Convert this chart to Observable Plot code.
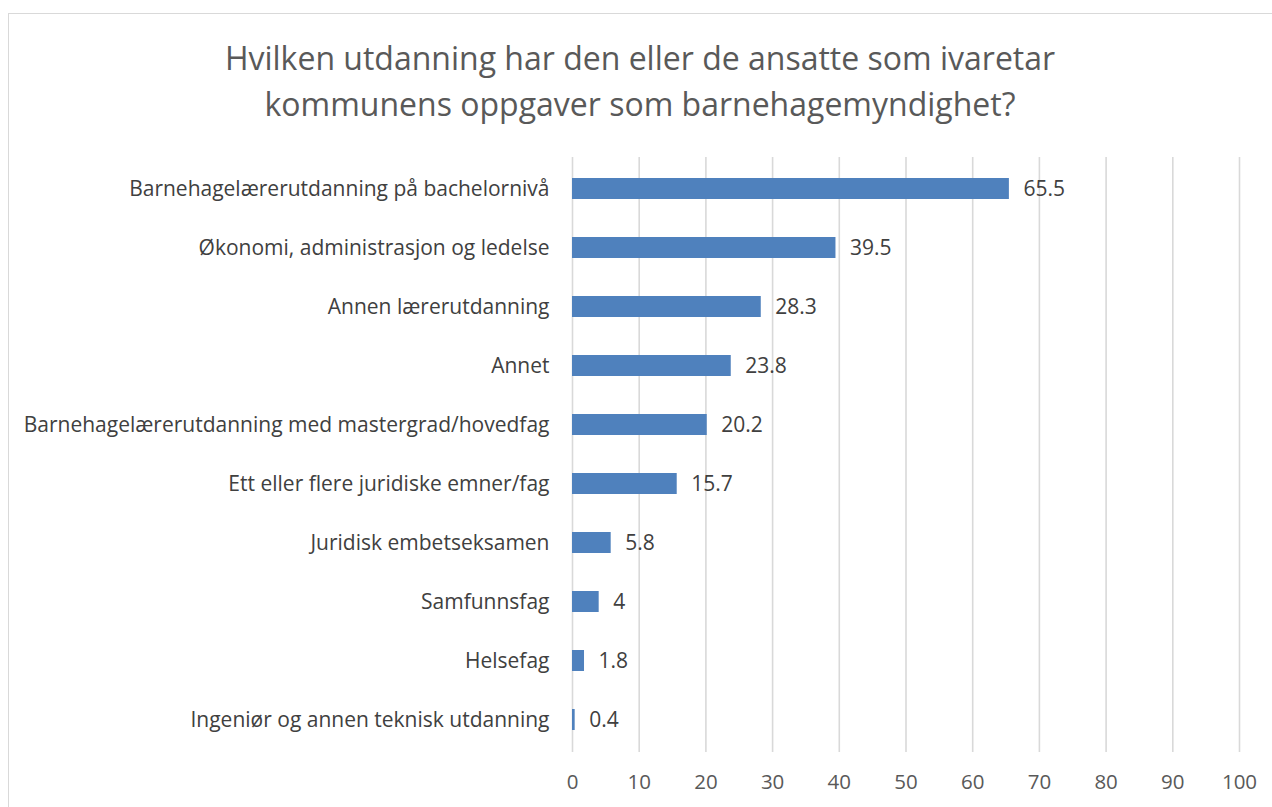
<!DOCTYPE html>
<html>
<head>
<meta charset="utf-8">
<script src="https://cdn.jsdelivr.net/npm/d3@7"></script>
<script src="https://cdn.jsdelivr.net/npm/@observablehq/plot@0.6"></script>
<style>
  html, body { margin: 0; padding: 0; background: #fff; }
  body { width: 1272px; height: 807px; overflow: hidden; position: relative; font-family: "Open Sans", sans-serif; }
  #frame { position: absolute; left: 8px; top: 13px; width: 1280px; height: 820px; border: 1.5px solid #d9d9d9; box-sizing: border-box; }
  #title { position: absolute; left: 8px; width: 1264px; top: 35px; text-align: center; color: #595959; font-size: 32px; line-height: 46px; }
  #chart { position: absolute; left: 0; top: 150px; }
</style>
</head>
<body>
<div id="frame"></div>
<div id="title">Hvilken utdanning har den eller de ansatte som ivaretar<br>kommunens oppgaver som barnehagemyndighet?</div>
<div id="chart"></div>
<script>
const categories = [
  "Barnehagelærerutdanning på bachelornivå",
  "Økonomi, administrasjon og ledelse",
  "Annen lærerutdanning",
  "Annet",
  "Barnehagelærerutdanning med mastergrad/hovedfag",
  "Ett eller flere juridiske emner/fag",
  "Juridisk embetseksamen",
  "Samfunnsfag",
  "Helsefag",
  "Ingeniør og annen teknisk utdanning"
];
const values = [65.5, 39.5, 28.3, 23.8, 20.2, 15.7, 5.8, 4, 1.8, 0.4];
const xTicks = [0, 10, 20, 30, 40, 50, 60, 70, 80, 90, 100];

const data = categories.map((c, i) => ({category: c, value: values[i]}));

const chart = Plot.plot({
  width: 1272,
  height: 657,
  marginLeft: 572,
  marginRight: 33,
  marginTop: 7,
  marginBottom: 55,
  style: {fontFamily: "Open Sans, sans-serif", fontSize: "21px", color: "#404040", background: "transparent", overflow: "visible"},
  x: {domain: [0, 100], ticks: xTicks, label: null},
  y: {domain: categories, paddingInner: 0.64, paddingOuter: 0.32, label: null},
  marks: [
    Plot.ruleX(xTicks, {stroke: "#d9d9d9", strokeWidth: 1.6, strokeOpacity: 1}),
    Plot.barX(data, {x: "value", y: "category", fill: "#4f81bd"}),
    Plot.text(data, {x: "value", y: "category", text: d => String(d.value), textAnchor: "start", dx: 14, fill: "#404040", fontSize: 21}),
    Plot.axisX({ticks: xTicks, tickSize: 0, tickPadding: 22, tickFormat: d => String(d), fontSize: 20.5, fill: "#595959", label: null}),
    Plot.axisY({tickSize: 0, tickPadding: 23, fontSize: 21, fill: "#404040", label: null})
  ]
});
document.getElementById("chart").appendChild(chart);
</script>
</body>
</html>
